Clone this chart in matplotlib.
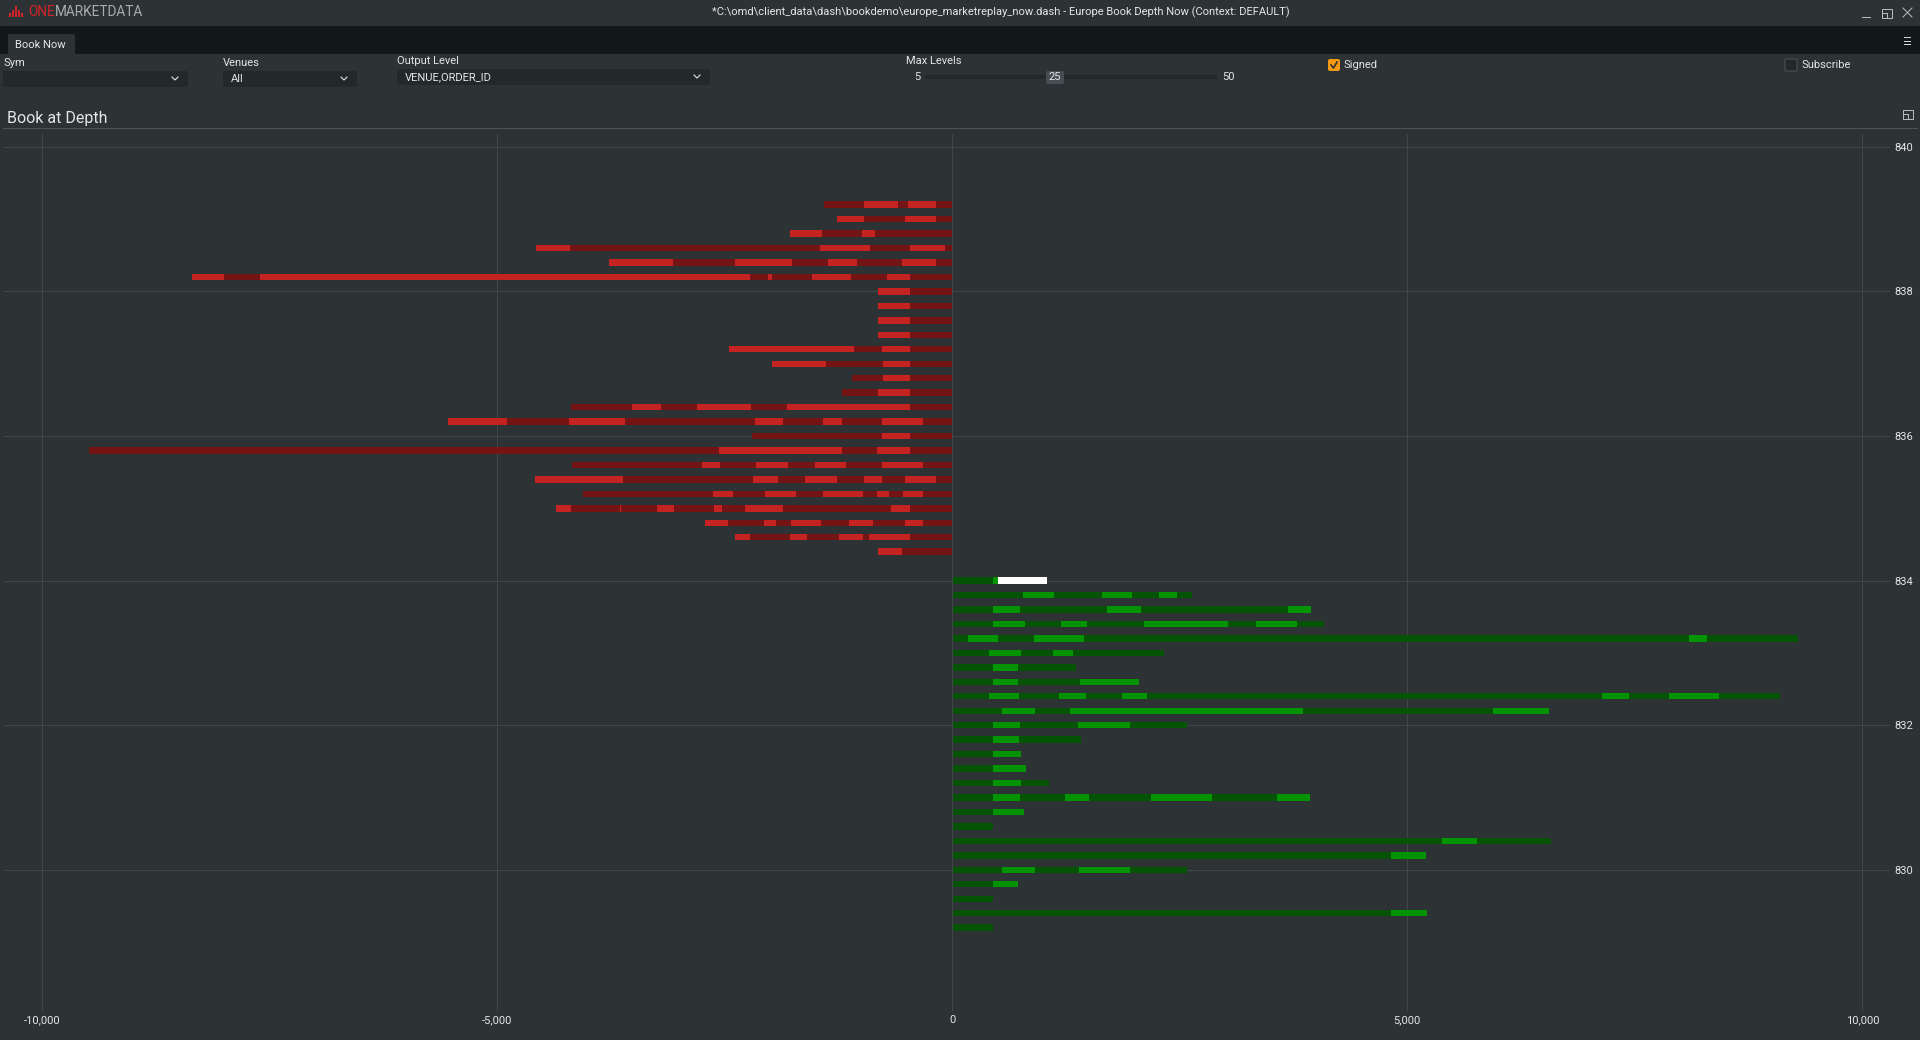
import matplotlib
matplotlib.use("Agg")
import matplotlib.pyplot as plt
from matplotlib.patches import Rectangle, FancyBboxPatch

plt.rcParams['font.family'] = ['Roboto', 'DejaVu Sans']

# Cumulative depth at each order boundary, per price level (shown signed: asks negative)
ask_prices = [839.2, 839.0, 838.8, 838.6, 838.4, 838.2, 838.0, 837.8, 837.6, 837.4, 837.2, 837.0, 836.8,
              836.6, 836.4, 836.2, 836.0, 835.8, 835.6, 835.4, 835.2, 835.0, 834.8, 834.6, 834.4]
ask_depth = [
    [179, 487, 597, 971, 1410],
    [179, 520, 971, 1267],
    [850, 993, 1432, 1784],
    [81, 465, 905, 1454, 4201, 4575],
    [179, 553, 1048, 1366, 1762, 2388, 3070, 3773],
    [465, 718, 1114, 1542, 1982, 2026, 2223, 7608, 8003, 8355],
    [465, 817],
    [465, 817],
    [465, 817],
    [465, 817],
    [465, 773, 1081, 2454],
    [465, 762, 1388, 1982],
    [465, 762, 1103],
    [465, 817, 1212],
    [465, 1817, 2212, 2806, 3201, 3520, 4187],
    [322, 773, 1212, 1421, 1861, 2168, 3597, 4212, 4893, 5542],
    [465, 773, 2201],
    [465, 828, 1212, 2564, 9487],
    [322, 773, 1168, 1509, 1806, 2158, 2553, 2751, 4180],
    [179, 520, 773, 971, 1267, 1619, 1916, 2190, 3619, 4586],
    [322, 542, 696, 828, 982, 1421, 1718, 2059, 2410, 2630, 4055],
    [465, 674, 1861, 2278, 2531, 2619, 3059, 3245, 3641, 3652, 4190, 4355],
    [322, 520, 872, 1136, 1443, 1773, 1938, 2070, 2465, 2718],
    [465, 916, 982, 1245, 1597, 1784, 2223, 2388],
    [553, 817],
]
bid_prices = [834.0, 833.8, 833.6, 833.4, 833.2, 833.0, 832.8, 832.6, 832.4, 832.2, 832.0, 831.8, 831.6,
              831.4, 831.2, 831.0, 830.8, 830.6, 830.4, 830.2, 830.0, 829.8, 829.6, 829.4, 829.2]
bid_depth = [
    [447, 502, 1040],
    [777, 1117, 1645, 1974, 2271, 2469, 2634],
    [447, 744, 1700, 2073, 3689, 3941],
    [447, 799, 1194, 1480, 2106, 3029, 3337, 3788, 4084],
    [172, 502, 897, 1447, 8096, 8293, 9293],
    [403, 755, 1106, 1326, 2326],
    [447, 722, 1359],
    [447, 722, 1403, 2051],
    [403, 733, 1172, 1469, 1864, 2139, 7135, 7432, 7876, 8425, 9096],
    [546, 908, 1293, 3853, 5942, 6557],
    [447, 744, 1381, 1952, 2579],
    [447, 733, 1414],
    [447, 755],
    [447, 810],
    [447, 755, 1062],
    [447, 744, 1238, 1502, 2183, 2853, 3568, 3930],
    [447, 788],
    [447],
    [5381, 5766, 6579],
    [4821, 5206],
    [546, 908, 1392, 1952, 2579],
    [447, 722],
    [447],
    [4821, 5217],
    [447],
]
selected_price = 834.0
selected_order = 2

x_ticks = [-10000, -5000, 0, 5000, 10000]
y_ticks = [830, 832, 834, 836, 838, 840]

BG = '#2d3235'
BAND = '#13181b'
GRID = '#42474a'
TXT = '#e4e6e7'
FIELD = '#23282b'
RED_D, RED_B = '#751414', '#c52222'
GRN_D, GRN_B = '#055405', '#039303'
LW = 0.72

W, H = 1920, 1040
fig = plt.figure(figsize=(19.2, 10.4), dpi=100, facecolor=BG)

# ---- chart ----
L, R, T, B = 4, 1890, 134, 1010.7
ax = fig.add_axes([L / W, 1 - B / H, (R - L) / W, (B - T) / H], facecolor=BG)
PX_X = 0.091
PX_Y = 72.3
Y840 = 146.8
ax.set_xlim((L - 952.3) / PX_X, (R - 952.3) / PX_X)
ax.set_ylim(840 - (B - Y840) / PX_Y, 840 - (T - Y840) / PX_Y)
BAR_H = 6.4 / PX_Y


def draw_side(prices, depth, sign, dark, bright):
    for price, edges in zip(prices, depth):
        start = 0
        for i, end in enumerate(edges):
            col = bright if i % 2 else dark
            if sign > 0 and price == selected_price and i == selected_order:
                col = '#ffffff'
            ax.barh(price, sign * (end - start), left=sign * start, height=BAR_H,
                    color=col, linewidth=0, zorder=2)
            start = end


draw_side(ask_prices, ask_depth, -1, RED_D, RED_B)
draw_side(bid_prices, bid_depth, 1, GRN_D, GRN_B)

ax.set_xticks(x_ticks)
ax.set_xticklabels([f'{v:,}' for v in x_ticks])
ax.set_yticks(y_ticks)
ax.yaxis.tick_right()
ax.grid(True, color=GRID, linewidth=LW, zorder=1)
ax.set_axisbelow(True)
ax.axvline(0, color=GRID, linewidth=LW, zorder=3)
ax.tick_params(axis='both', length=0, colors=TXT, labelsize=8.0)
ax.tick_params(axis='x', pad=3)
ax.tick_params(axis='y', pad=3)
for s in ax.spines.values():
    s.set_visible(False)

# ---- application chrome (pixel coordinates) ----
ui = fig.add_axes([0, 0, 1, 1], facecolor='none', zorder=5)
ui.set_xlim(0, W)
ui.set_ylim(H, 0)
ui.axis('off')


def rect(x0, y0, x1, y1, fc, ec='none', lw=0):
    ui.add_patch(Rectangle((x0, y0), x1 - x0, y1 - y0, facecolor=fc, edgecolor=ec, linewidth=lw))


def label(x, y, s, size=8.0, color=TXT, ha='left', **kw):
    ui.text(x, y, s, fontsize=size, color=color, ha=ha, va='center', **kw)


def field(x0, y0, x1, y1, fc=FIELD):
    ui.add_patch(FancyBboxPatch((x0 + 2, y0 + 2), x1 - x0 - 4, y1 - y0 - 4,
                                boxstyle='round,pad=2', facecolor=fc, edgecolor='none'))


def caret(x, y):
    ui.plot([x - 3, x, x + 3], [y - 1.5, y + 1.5, y - 1.5], color=TXT, lw=0.8)


# title bar and tab band
rect(0, 26, W, 54, BAND)
ui.add_patch(FancyBboxPatch((10, 36), 63, 22, boxstyle='round,pad=2', facecolor=BG, edgecolor='none'))
rect(0, 54, W, 60, BG)
label(15, 44.5, 'Book Now')

for x, h in zip([9, 12, 15, 18, 21], [4, 7, 11, 7, 4]):
    rect(x, 16.5 - h, x + 1.6, 16.5, '#d2232a')
label(28, 12, 'ONE', size=9.8, color='#d2232a')
label(55, 12, 'MARKETDATA', size=9.8, color='#a9adb0')
label(1001, 12, '*C:\\omd\\client_data\\dash\\bookdemo\\europe_marketreplay_now.dash - Europe Book Depth Now (Context: DEFAULT)',
      size=8.03, ha='center')

# window buttons
ui.plot([1862, 1870], [17, 17], color='#b8bcbf', lw=LW)
rect(1882, 9, 1892, 18, 'none', ec='#b8bcbf', lw=LW)
ui.plot([1882, 1887, 1887], [13, 13, 18], color='#b8bcbf', lw=LW)
ui.plot([1903, 1912], [8, 17], color='#b8bcbf', lw=LW)
ui.plot([1903, 1912], [17, 8], color='#b8bcbf', lw=LW)
for y in (37, 40.5, 44):
    ui.plot([1904, 1910], [y, y], color='#d5d8da', lw=LW)

# controls
label(3, 62.5, 'Sym')
field(3, 71, 188, 87)
caret(175, 78.5)
label(223, 62.5, 'Venues')
field(223, 71, 357, 87)
label(231, 79.5, 'All')
caret(344, 78.5)
label(397, 60.5, 'Output Level')
field(397, 69, 710, 85)
label(405, 77, 'VENUE,ORDER_ID')
caret(697, 76.5)
label(906, 60.5, 'Max Levels')
label(914, 77, '5')
rect(925, 75, 1217, 79, FIELD)
field(1046, 71, 1064, 84, fc='#474e53')
label(1055, 77.5, '25', ha='center')
label(1222, 77, '50')
field(1328, 59, 1340, 71, fc='#f59a12')
ui.plot([1331, 1333.5, 1337], [65, 68, 62], color='#2d3235', lw=1.2)
label(1344, 65, 'Signed')
ui.add_patch(FancyBboxPatch((1786, 60), 10, 10, boxstyle='round,pad=1', facecolor=FIELD, edgecolor='#4d5357', lw=LW))
label(1801, 64.5, 'Subscribe')

# panel header
label(7, 118, 'Book at Depth', size=11.5)
ui.plot([3, 1917], [128, 128], color='#4e5357', lw=LW)
rect(1903, 110, 1913, 119, 'none', ec='#b8bcbf', lw=LW)
ui.plot([1903, 1908, 1908], [114, 114, 119], color='#b8bcbf', lw=LW)

fig.savefig('out.png', dpi=100, facecolor=BG)
